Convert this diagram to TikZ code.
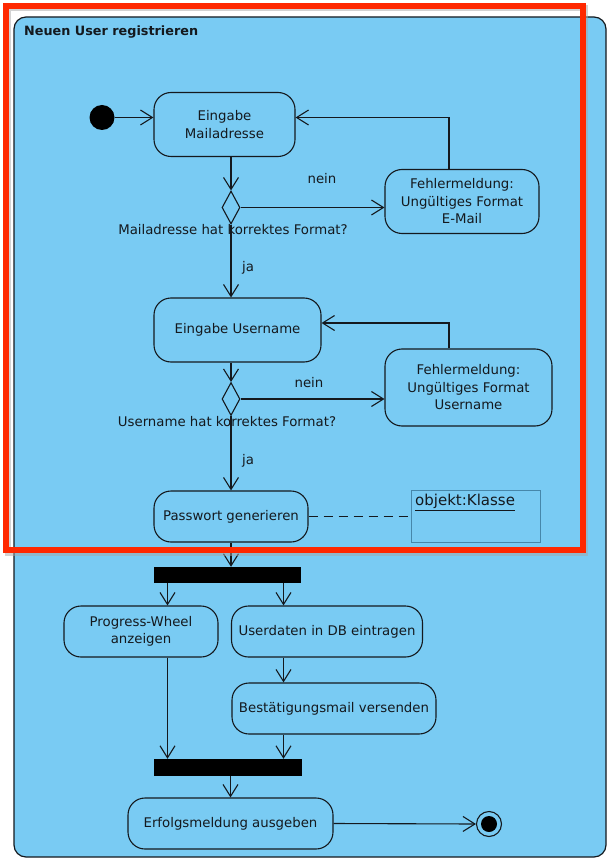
\documentclass[tikz,border=0pt]{standalone}
\usepackage{fontspec}
\setmainfont{DejaVu Sans}
\usetikzlibrary{arrows.meta,shapes.geometric}
\definecolor{panel}{RGB}{121,203,243}
\definecolor{ink}{RGB}{20,25,30}
\definecolor{redframe}{RGB}{255,40,0}
\definecolor{objline}{RGB}{70,135,170}
\tikzset{
  arr/.style={draw=ink, line width=1.1pt, -{Straight Barb[length=12pt,width=15pt,line width=1.1pt]}},
  line/.style={draw=ink, line width=1.1pt},
  action/.style={draw=ink, line width=1.1pt, fill=panel, rounded corners=17pt, align=center,
     inner sep=0pt, font=\fontsize{13.3}{17.5}\selectfont, text=ink},
  lbl/.style={font=\fontsize{13.3}{17.5}\selectfont, text=ink, inner sep=0pt},
  decision/.style={draw=ink, line width=1.1pt, diamond, fill=panel, inner sep=0pt,
     minimum width=18pt, minimum height=33pt},
  bar/.style={fill=black, draw=none, inner sep=0pt},
}
\begin{document}
\begin{tikzpicture}[x=1pt,y=-1pt]
\useasboundingbox (0,0) rectangle (608,858);
\fill[white] (0,0) rectangle (608,858);
% panel
\draw[draw=ink, line width=1.2pt, fill=panel, rounded corners=12pt] (14,17) rectangle (606,857);
\node[anchor=west, font=\bfseries\fontsize{12.8}{14}\selectfont, text=ink, inner sep=0pt] (title) at (24,32) {Neuen User registrieren};

% nodes
\node[circle, fill=black, inner sep=0pt, minimum size=25pt] (init) at (102,117.5) {};
\node[action, minimum width=141pt, minimum height=64pt] (mail) at (224.5,124.5) {Eingabe\\Mailadresse};
\node[decision] (d1) at (231,207.5) {};
\node[action, minimum width=154pt, minimum height=64pt] (f1) at (462,201.5) {Fehlermeldung:\\Ungültiges Format\\E-Mail};
\node[action, minimum width=167pt, minimum height=64pt] (user) at (237.5,330) {Eingabe Username};
\node[decision] (d2) at (231,399) {};
\node[action, minimum width=167pt, minimum height=77pt] (f2) at (468.5,387.5) {Fehlermeldung:\\Ungültiges Format\\Username};
\node[action, minimum width=154pt, minimum height=51pt] (pw) at (231,516.5) {Passwort generieren};
\node[draw=objline, line width=0.8pt, minimum width=129pt, minimum height=52pt, inner sep=0pt] (obj) at (475.5,516) {};
\node[anchor=north west, font=\fontsize{15}{16}\selectfont, text=ink, inner sep=0pt] (objt) at (415,494) {\underline{objekt:Klasse}};
\node[bar, minimum width=147pt, minimum height=16pt] (bar1) at (227.5,575) {};
\node[action, minimum width=154pt, minimum height=51pt] (prog) at (141,631.5) {Progress-Wheel\\anzeigen};
\node[action, minimum width=191pt, minimum height=51pt] (db) at (327,631.5) {Userdaten in DB eintragen};
\node[action, minimum width=204pt, minimum height=51pt] (send) at (334,708.5) {Bestätigungsmail versenden};
\node[bar, minimum width=148pt, minimum height=17pt] (bar2) at (228,767.5) {};
\node[action, minimum width=205pt, minimum height=51pt] (erfolg) at (230.5,823.5) {Erfolgsmeldung ausgeben};
\node[circle, draw=ink, line width=1.1pt, fill=panel, inner sep=0pt, minimum size=25pt] (final) at (489,824) {};
\node[circle, fill=black, inner sep=0pt, minimum size=16pt] (finalin) at (final) {};

% labels
\node[lbl] (l1) at (322,179) {nein};
\node[lbl] (l2) at (233,230) {Mailadresse hat korrektes Format?};
\node[lbl] (l3) at (248,268) {ja};
\node[lbl] (l4) at (309,383) {nein};
\node[lbl] (l5) at (227,422) {Username hat korrektes Format?};
\node[lbl] (l6) at (248,461) {ja};

% helper coordinates
\coordinate (r1) at (449,117.5);
\coordinate (r2) at (449,323);
\coordinate (xl) at (167.5,0);
\coordinate (xr) at (283.5,0);

% connectors
\draw[arr] (init) -- (init -| mail.west);
\draw[arr] (mail.south -| d1) -- (d1.north);
\draw[arr] (d1.east) -- (d1.east -| f1.west);
\draw[arr] (f1.north -| r1) -- (r1) -- (r1 -| mail.east);
\draw[arr] (d1.south) -- (d1.south |- user.north);
\draw[arr] (user.south -| d2) -- (d2.north);
\draw[arr] (d2.east) -- (d2.east -| f2.west);
\draw[arr] (f2.north -| r2) -- (r2) -- (r2 -| user.east);
\draw[arr] (d2.south) -- (d2.south |- pw.north);
\draw[line, dash pattern=on 9pt off 6pt] (pw.east) -- (pw.east -| obj.west);
\draw[arr] (pw.south) -- (pw.south |- bar1.north);
\draw[arr] (bar1.south -| xl) -- (prog.north -| xl);
\draw[arr] (bar1.south -| xr) -- (db.north -| xr);
\draw[arr] (db.south -| xr) -- (send.north -| xr);
\draw[arr] (prog.south -| xl) -- (bar2.north -| xl);
\draw[arr] (send.south -| xr) -- (bar2.north -| xr);
\draw[arr] (bar2.south -| erfolg) -- (erfolg.north);
\draw[arr] (erfolg.east) -- (final.west);

% red highlight frame with shadow
\draw[black!35, line width=6pt, opacity=0.5] (7.5,8.5) rectangle (584.5,552.5);
\draw[redframe, line width=6pt] (6,6) rectangle (582.5,549.5);
\end{tikzpicture}
\end{document}
